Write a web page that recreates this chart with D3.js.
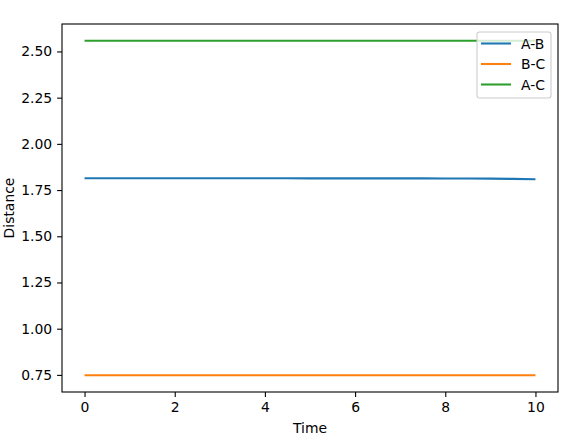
<!DOCTYPE html>
<html>
<head>
<meta charset="utf-8">
<script src="https://cdn.jsdelivr.net/npm/d3@7"></script>
<style>
  body { margin: 0; background: #fff; }
  svg { font-family: "DejaVu Sans", sans-serif; }
</style>
</head>
<body>
<svg id="chart"></svg>
<script>
// time samples
const times = [0, 0.5, 1, 1.5, 2, 2.5, 3, 3.5, 4, 4.5, 5, 5.5, 6, 6.5, 7, 7.5, 8, 8.5, 9, 9.5, 10];
// distances between atoms
const abValues = [1.814, 1.814, 1.814, 1.814, 1.814, 1.814, 1.814, 1.8138, 1.8137, 1.8136, 1.8135, 1.8135, 1.8135, 1.8134, 1.8133, 1.8132, 1.813, 1.8127, 1.8118, 1.8105, 1.809];
const bcValues = [0.748, 0.748, 0.748, 0.748, 0.748, 0.748, 0.748, 0.748, 0.748, 0.748, 0.748, 0.748, 0.748, 0.748, 0.748, 0.748, 0.748, 0.748, 0.748, 0.748, 0.748];
const acValues = [2.558, 2.558, 2.558, 2.558, 2.558, 2.558, 2.558, 2.558, 2.558, 2.558, 2.558, 2.558, 2.558, 2.558, 2.558, 2.558, 2.558, 2.558, 2.558, 2.558, 2.558];
const seriesNames = ["A-B", "B-C", "A-C"];
const seriesColors = ["#1f77b4", "#ff7f0e", "#2ca02c"];
const xTicks = [0, 2, 4, 6, 8, 10];
const yTicks = [0.75, 1.00, 1.25, 1.50, 1.75, 2.00, 2.25, 2.50];

const width = 572, height = 437;
const margin = { left: 62, right: 14, top: 24, bottom: 45 };

const svg = d3.select("#chart").attr("width", width).attr("height", height);

const xScale = d3.scaleLinear().domain([-0.5, 10.5]).range([margin.left, width - margin.right]);
const yScale = d3.scaleLinear().domain([0.6575, 2.6485]).range([height - margin.bottom, margin.top]);

// axes
const xAxis = d3.axisBottom(xScale).tickValues(xTicks).tickSize(4.9).tickPadding(4.9).tickFormat(d3.format("d"));
const yAxis = d3.axisLeft(yScale).tickValues(yTicks).tickSize(4.9).tickPadding(4.9).tickFormat(d3.format(".2f"));

const gx = svg.append("g")
  .attr("transform", `translate(0, ${height - margin.bottom})`)
  .call(xAxis);
const gy = svg.append("g")
  .attr("transform", `translate(${margin.left}, 0)`)
  .call(yAxis);

[gx, gy].forEach(g => {
  g.select(".domain").remove();
  g.selectAll(".tick line").attr("stroke", "#000").attr("stroke-width", 1.1);
  g.selectAll(".tick text").attr("fill", "#000").style("font-size", "13.9px").style("font-family", "DejaVu Sans");
});

// lines
const series = [abValues, bcValues, acValues];
const line = d3.line().x((d, i) => xScale(times[i])).y(d => yScale(d));
series.forEach((vals, k) => {
  svg.append("path")
    .datum(vals)
    .attr("fill", "none")
    .attr("stroke", seriesColors[k])
    .attr("stroke-width", 2.08)
    .attr("d", line);
});

// frame
svg.append("rect")
  .attr("x", margin.left)
  .attr("y", margin.top)
  .attr("width", width - margin.left - margin.right)
  .attr("height", height - margin.top - margin.bottom)
  .attr("fill", "none")
  .attr("stroke", "#000")
  .attr("stroke-width", 1.1);

// axis labels
svg.append("text")
  .attr("x", (margin.left + width - margin.right) / 2)
  .attr("y", 433)
  .attr("text-anchor", "middle")
  .style("font-size", "13.9px")
  .text("Time");
svg.append("text")
  .attr("transform", `translate(14, ${(margin.top + height - margin.bottom) / 2}) rotate(-90)`)
  .attr("text-anchor", "middle")
  .style("font-size", "13.9px")
  .text("Distance");

// legend
const legend = svg.append("g").attr("transform", "translate(477, 32)");
legend.append("rect")
  .attr("width", 74)
  .attr("height", 66)
  .attr("rx", 2.5)
  .attr("fill", "#fff")
  .attr("fill-opacity", 0.8)
  .attr("stroke", "#cccccc")
  .attr("stroke-width", 1.1);
seriesNames.forEach((name, i) => {
  const y = 11.5 + i * 20.5;
  legend.append("line")
    .attr("x1", 4).attr("x2", 34)
    .attr("y1", y).attr("y2", y)
    .attr("stroke", seriesColors[i])
    .attr("stroke-width", 2.08);
  legend.append("text")
    .attr("x", 44)
    .attr("y", y)
    .attr("dy", "0.36em")
    .style("font-size", "13.9px")
    .text(name);
});
</script>
</body>
</html>
